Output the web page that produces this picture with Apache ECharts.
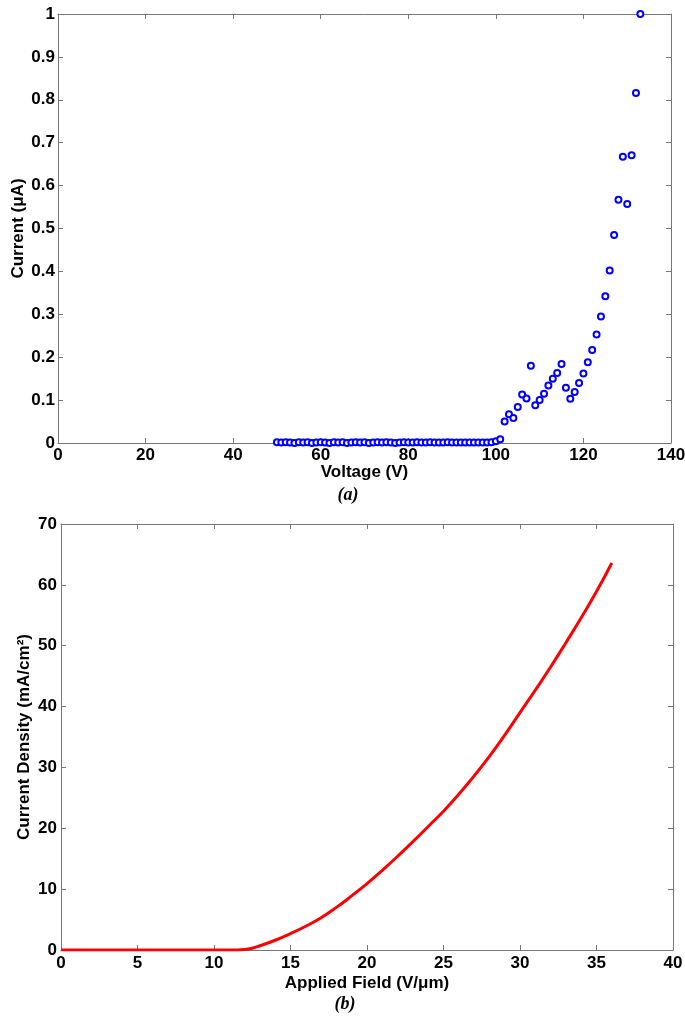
<!DOCTYPE html>
<html>
<head>
<meta charset="utf-8">
<script src="https://cdn.jsdelivr.net/npm/echarts@6/dist/echarts.min.js"></script>
<style>
	html, body { margin: 0; padding: 0; background: #fff; }
	#chart { width: 685px; height: 1016px; }
</style>
</head>
<body>
<div id="chart"></div>
<script>
// (a) current vs voltage, one point per volt
const voltage = [
	50, 51, 52, 53, 54, 55, 56, 57, 58, 59, 60, 61, 62, 63, 64, 65, 66, 67, 68, 69,
	70, 71, 72, 73, 74, 75, 76, 77, 78, 79, 80, 81, 82, 83, 84, 85, 86, 87, 88, 89,
	90, 91, 92, 93, 94, 95, 96, 97, 98, 99, 100, 101, 102, 103, 104, 105, 106, 107, 108, 109,
	110, 111, 112, 113, 114, 115, 116, 117, 118, 119, 120, 121, 122, 123, 124, 125, 126, 127, 128, 129,
	130, 131, 132, 133,
];
const current = [
	0.002, 0.001, 0.002, 0.001, 0.000, 0.002, 0.001, 0.002, 0.000, 0.001, 0.002, 0.001, 0.000, 0.002, 0.001, 0.002, 0.000, 0.001, 0.002, 0.001,
	0.002, 0.000, 0.001, 0.002, 0.001, 0.002, 0.001, 0.000, 0.001, 0.002, 0.001, 0.001, 0.002, 0.001, 0.001, 0.002, 0.001, 0.001, 0.001, 0.002,
	0.001, 0.001, 0.001, 0.001, 0.001, 0.001, 0.001, 0.001, 0.001, 0.002, 0.004, 0.009, 0.050, 0.067, 0.058, 0.084, 0.113, 0.104, 0.180, 0.088,
	0.100, 0.115, 0.134, 0.150, 0.163, 0.184, 0.129, 0.103, 0.119, 0.140, 0.162, 0.188, 0.217, 0.253, 0.295, 0.342, 0.402, 0.485, 0.567, 0.667,
	0.557, 0.671, 0.816, 1.000,
];

// (b) current density vs applied field
const field = [
	0, 1, 2, 3, 4, 5, 6, 7, 8, 9, 10, 11, 12, 12.5, 13, 14, 15, 16, 17, 18,
	19, 20, 21, 22, 23, 24, 25, 26, 27, 28, 29, 30, 31, 32, 33, 34, 35, 36,
];
const density = [
	0, 0, 0, 0, 0, 0, 0, 0, 0, 0, 0, 0, 0.1, 0.3, 0.7, 1.6, 2.7, 3.9, 5.3, 7.0,
	8.9, 10.9, 13.1, 15.4, 17.8, 20.3, 22.8, 25.6, 28.6, 31.8, 35.3, 39.0, 42.7, 46.5, 50.5, 54.6, 58.9, 63.6,
];

const voltageTicks = { min: 0, max: 140, interval: 20 };
const currentTicks = { min: 0, max: 1, interval: 0.1 };
const fieldTicks = { min: 0, max: 40, interval: 5 };
const densityTicks = { min: 0, max: 70, interval: 10 };

const axisColor = "#777";
const labelFont = { color: "#000", fontFamily: "Liberation Sans", fontWeight: "bold", fontSize: 17 };
const nameFont = { color: "#000", fontFamily: "Liberation Sans", fontWeight: "bold", fontSize: 17 };
const tagFont = { fontFamily: "Liberation Serif", fontStyle: "italic", fontWeight: "bold", fontSize: 18, fill: "#000" };

function mainAxis(ticks, gridIndex, position, name, nameGap, margin) {
	return {
		type: "value",
		gridIndex,
		position,
		min: ticks.min,
		max: ticks.max,
		interval: ticks.interval,
		name,
		nameLocation: "middle",
		nameGap,
		nameMoveOverlap: false,
		nameTextStyle: nameFont,
		axisLine: { show: true, onZero: false, lineStyle: { color: axisColor, width: 1 } },
		axisTick: { show: true, inside: true, length: 5, lineStyle: { color: axisColor } },
		axisLabel: Object.assign({ margin }, labelFont),
		splitLine: { show: false },
	};
}

function mirrorAxis(ticks, gridIndex, position) {
	return {
		type: "value",
		gridIndex,
		position,
		min: ticks.min,
		max: ticks.max,
		interval: ticks.interval,
		axisLine: { show: true, onZero: false, lineStyle: { color: axisColor, width: 1 } },
		axisTick: { show: true, inside: true, length: 5, lineStyle: { color: axisColor } },
		axisLabel: { show: false },
		splitLine: { show: false },
	};
}

const chart = echarts.init(document.getElementById("chart"));

const option = {
	animation: false,
	backgroundColor: "#fff",
	graphic: [
		{ type: "text", x: 348, y: 495, style: Object.assign({ text: "(a)", align: "center", verticalAlign: "middle" }, tagFont) },
		{ type: "text", x: 345, y: 1004, style: Object.assign({ text: "(b)", align: "center", verticalAlign: "middle" }, tagFont) },
	],
	grid: [
		{ left: 58, top: 14, width: 613, height: 429, outerBoundsMode: "none" },
		{ left: 61, top: 524, width: 612, height: 426, outerBoundsMode: "none" },
	],
	xAxis: [
		mainAxis(voltageTicks, 0, "bottom", "Voltage (V)", 21, 4),
		mirrorAxis(voltageTicks, 0, "top"),
		mainAxis(fieldTicks, 1, "bottom", "Applied Field (V/\u03bcm)", 25, 5),
		mirrorAxis(fieldTicks, 1, "top"),
	],
	yAxis: [
		mainAxis(currentTicks, 0, "left", "Current (\u03bcA)", 31, 3),
		mirrorAxis(currentTicks, 0, "right"),
		mainAxis(densityTicks, 1, "left", "Current Density (mA/cm\u00b2)", 28, 4),
		mirrorAxis(densityTicks, 1, "right"),
	],
	series: [
		{
			type: "scatter",
			xAxisIndex: 0,
			yAxisIndex: 0,
			data: voltage.map((v, i) => [v, current[i]]),
			symbol: "emptyCircle",
			symbolSize: 6,
			itemStyle: { color: "#0000ff", borderColor: "#0000ff", borderWidth: 2, opacity: 1 },
		},
		{
			type: "line",
			xAxisIndex: 2,
			yAxisIndex: 2,
			data: field.map((f, i) => [f, density[i]]),
			smooth: 0.5,
			showSymbol: false,
			lineStyle: { color: "#ff0000", width: 3 },
		},
	],
};

chart.setOption(option);
</script>
</body>
</html>
